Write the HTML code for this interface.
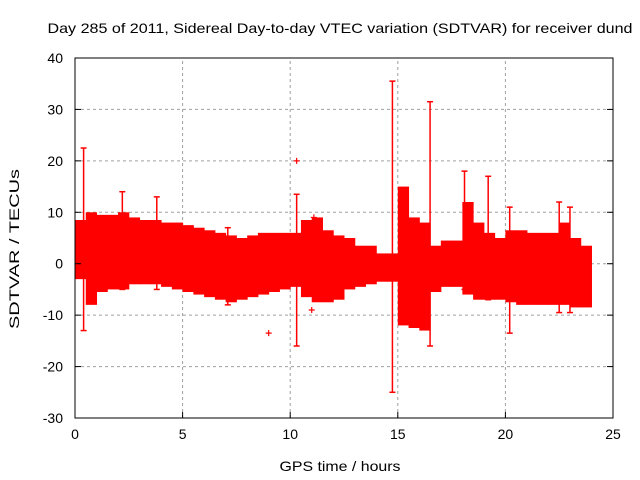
<!DOCTYPE html>
<html><head><meta charset="utf-8"><style>
body{margin:0;background:#fff}
svg{display:block;font-family:"Liberation Sans",sans-serif}
</style></head><body>
<svg id="c" width="640" height="480">
<text x="340" y="33" text-anchor="middle" font-size="14" textLength="585" lengthAdjust="spacingAndGlyphs">Day 285 of 2011, Sidereal Day-to-day VTEC variation (SDTVAR) for receiver dund</text>
<text transform="translate(19,249) rotate(-90)" text-anchor="middle" font-size="14" textLength="160" lengthAdjust="spacingAndGlyphs">SDTVAR / TECUs</text>
<text x="340" y="471" text-anchor="middle" font-size="14" textLength="121" lengthAdjust="spacingAndGlyphs">GPS time / hours</text>
<g id="grid"></g><g id="data"></g><g id="axes"></g>
</svg>
<script>
const times=[0,0.5,1,1.5,2,2.5,3,3.5,4,4.5,5,5.5,6,6.5,7,7.5,8,8.5,9,9.5,10,10.5,11,11.5,12,12.5,13,13.5,14,14.5,15,15.5,16,16.5,17,17.5,18,18.5,19,19.5,20,20.5,21,21.5,22,22.5,23,23.5,24];
const upper=[8.5,10,9.5,9.5,10,9,8.5,8.5,8,8,7.5,7,6.5,6,5.5,5,5.5,6,6,6,6,8.5,9,6.5,5.5,5,3.5,3.5,2,2,15,9,8,3.5,4.5,4.5,12,8,6,5,6.5,6.5,6,6,6,8,5,3.5,3];
const lower=[-3,-8,-5.5,-5,-5,-4,-4,-4,-4.5,-5,-5.5,-6,-6.5,-7,-7.5,-7,-6.5,-6,-5.5,-5,-4.5,-6.5,-7.5,-7.5,-7,-5,-4.5,-4,-3.5,-3.5,-12,-12.5,-13,-5.5,-4.5,-4.5,-6,-7,-7,-7,-7.5,-8,-8,-8,-8,-8,-8.5,-8.5,-6];
const spikeT=[0.4,2.2,3.8,7.1,10.3,14.75,16.5,18.1,19.2,20.2,22.5,23];
const spikeHi=[22.5,14,13,7,13.5,35.5,31.5,18,17,11,12,11];
const spikeLo=[-13,-5,-5,-8,-16,-25,-16,-5,-7,-13.5,-9.5,-9.5];
const crossT=[9,10.3,11,11.1];
const crossV=[-13.5,20,-9,9];
const xTicks=[0,5,10,15,20,25];
const yTicks=[-30,-20,-10,0,10,20,30,40];
const X0=75,X1=613,Y0=418,Y1=58,xmin=0,xmax=25,ymin=-30,ymax=40;
const sx=v=>X0+(v-xmin)/(xmax-xmin)*(X1-X0);
const sy=v=>Y0-(v-ymin)/(ymax-ymin)*(Y0-Y1);
const NS="http://www.w3.org/2000/svg";
function mk(tag,attrs,parent){const e=document.createElementNS(NS,tag);for(const k in attrs)e.setAttribute(k,attrs[k]);document.getElementById(parent).appendChild(e);return e;}
xTicks.forEach(t=>{
 if(t>0&&t<25){const g=mk('line',{x1:sx(t),x2:sx(t),y1:Y0,y2:Y1,stroke:'#a0a0a0','stroke-dasharray':'3,3'},'grid');
 
 }
 const tk=mk('line',{x1:sx(t),x2:sx(t),y1:Y0,y2:Y0-6,stroke:'#000'},'axes');
 
 
 const l=mk('text',{x:sx(t),y:Y0+21,'text-anchor':'middle','font-size':14},'axes');l.textContent=t;
 
 
});
yTicks.forEach(t=>{
 if(t>ymin&&t<ymax){const g=mk('line',{x1:X0,x2:X1,y1:sy(t),y2:sy(t),stroke:'#a0a0a0','stroke-dasharray':'3,3'},'grid');
 
 }
 const tk=mk('line',{x1:X0,x2:X0+6,y1:sy(t),y2:sy(t),stroke:'#000'},'axes');
 
 
 const tk2=mk('line',{x1:X1,x2:X1-6,y1:sy(t),y2:sy(t),stroke:'#000'},'axes');
 
 
 const l=mk('text',{x:X0-12,y:sy(t)+5,'text-anchor':'end','font-size':14},'axes');l.textContent=String(t);
 
 
});
const fr=mk('rect',{x:X0,y:Y1,width:X1-X0,height:Y0-Y1,fill:'none',stroke:'#000'},'axes');


for(let i=0;i<times.length-1;i++){
 const r=mk('rect',{x:sx(times[i]),y:sy(upper[i]),width:sx(times[i+1])-sx(times[i])+0.5,height:sy(lower[i])-sy(upper[i]),fill:'#ff0000'},'data');
 
 
}
spikeT.forEach((t,i)=>{
 const x=sx(t);
 const l=mk('line',{x1:x,x2:x,y1:sy(spikeHi[i]),y2:sy(spikeLo[i]),stroke:'#ff0000','stroke-width':1.5},'data');
 
 
 [spikeHi[i],spikeLo[i]].forEach(v=>{
  const c=mk('line',{x1:x-3,x2:x+3,y1:sy(v),y2:sy(v),stroke:'#ff0000','stroke-width':1.5},'data');
  
  
 });
});
crossT.forEach((t,i)=>{
 const x=sx(t),y=sy(crossV[i]);
 const p=mk('path',{d:`M${x-3} ${y}H${x+3}M${x} ${y-3}V${y+3}`,stroke:'#ff0000','stroke-width':1.2},'data');
 
 
});
</script>
</body></html>
